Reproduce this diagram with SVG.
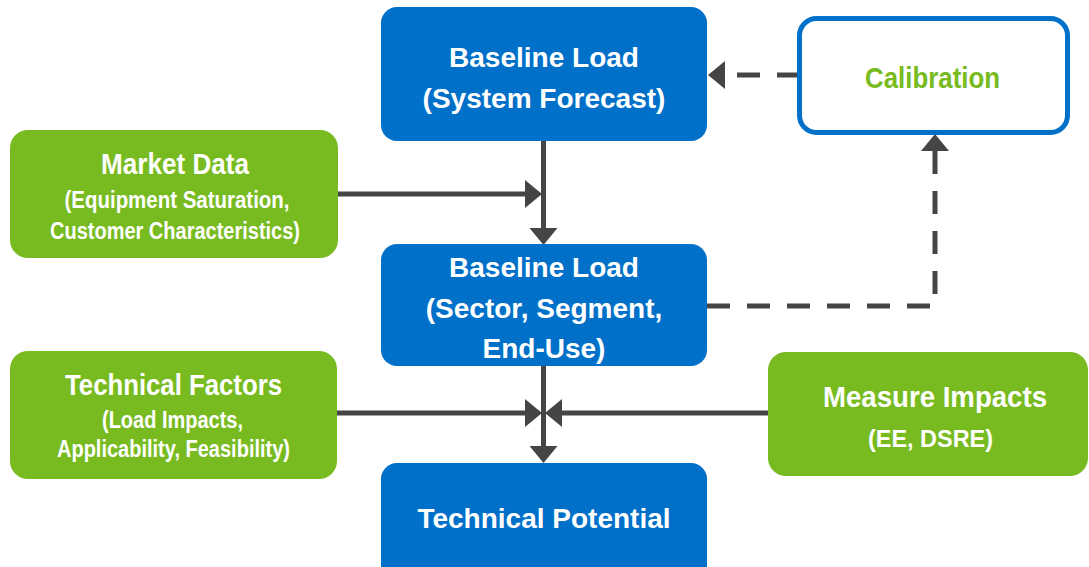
<svg xmlns="http://www.w3.org/2000/svg" width="1089" height="567" viewBox="0 0 1089 567">
  <style>
    .blue { fill: #0070C8; }
    .green { fill: #78BB20; }
    .outline { fill: #FFFFFF; stroke: #0070C8; stroke-width: 5; }
    text { font-family: "Liberation Sans", Arial, sans-serif; font-weight: bold; text-anchor: middle; }
    .w { fill: #FFFFFF; }
    .g { fill: #78BB20; }
    .big { font-size: 28px; }
    .head { font-size: 30px; }
    .small { font-size: 23px; }
    .link { fill: none; stroke: #444547; stroke-width: 5; }
    .dash { stroke-dasharray: 23 17; }
  </style>
  <defs>
    <marker id="head" markerUnits="userSpaceOnUse" markerWidth="18" markerHeight="28" refX="0" refY="14" orient="auto" overflow="visible">
      <path d="M0,0 L17,14 L0,28 Z" fill="#444547"/>
    </marker>
  </defs>

  <!-- connectors -->
  <g id="connectors">
    <line class="link" x1="543.5" y1="141" x2="543.5" y2="228" marker-end="url(#head)"/>
    <line class="link" x1="338" y1="194" x2="525" y2="194" marker-end="url(#head)"/>
    <line class="link" x1="543.5" y1="366" x2="543.5" y2="446" marker-end="url(#head)"/>
    <line class="link" x1="337" y1="413" x2="525" y2="413" marker-end="url(#head)"/>
    <line class="link" x1="768" y1="413" x2="562" y2="413" marker-end="url(#head)"/>
    <polyline class="link dash" points="707,306 935,306 935,151" marker-end="url(#head)"/>
    <line class="link dash" x1="800" y1="75" x2="725" y2="75" marker-end="url(#head)"/>
  </g>

  <g id="baseline-system">
    <rect class="blue" x="381" y="7" width="326" height="134" rx="16"/>
    <text class="w big" x="544" y="67">Baseline Load</text>
    <text class="w big" x="544" y="108">(System Forecast)</text>
  </g>

  <g id="calibration">
    <rect class="outline" x="799.5" y="18.5" width="268" height="114" rx="17"/>
    <text class="g head" x="932.5" y="88" textLength="135" lengthAdjust="spacingAndGlyphs">Calibration</text>
  </g>

  <g id="market-data">
    <rect class="green" x="10" y="130" width="328" height="128" rx="18"/>
    <text class="w head" x="175" y="174" textLength="148" lengthAdjust="spacingAndGlyphs">Market Data</text>
    <text class="w small" x="177" y="208" textLength="225" lengthAdjust="spacingAndGlyphs">(Equipment Saturation,</text>
    <text class="w small" x="175" y="239" textLength="250" lengthAdjust="spacingAndGlyphs">Customer Characteristics)</text>
  </g>

  <g id="baseline-sector">
    <rect class="blue" x="381" y="244" width="326" height="122" rx="16"/>
    <text class="w big" x="544" y="277">Baseline Load</text>
    <text class="w big" x="544" y="318">(Sector, Segment,</text>
    <text class="w big" x="544" y="358">End-Use)</text>
  </g>

  <g id="technical-factors">
    <rect class="green" x="10" y="351" width="327" height="128" rx="18"/>
    <text class="w head" x="173.5" y="395" textLength="217" lengthAdjust="spacingAndGlyphs">Technical Factors</text>
    <text class="w small" x="172.5" y="428" textLength="141" lengthAdjust="spacingAndGlyphs">(Load Impacts,</text>
    <text class="w small" x="173.5" y="457" textLength="233" lengthAdjust="spacingAndGlyphs">Applicability,  Feasibility)</text>
  </g>

  <g id="measure-impacts">
    <rect class="green" x="768" y="352" width="320" height="124" rx="18"/>
    <text class="w" x="935" y="407" font-size="29" textLength="224" lengthAdjust="spacingAndGlyphs">Measure Impacts</text>
    <text class="w" x="930.5" y="447" font-size="23" textLength="125" lengthAdjust="spacingAndGlyphs">(EE, DSRE)</text>
  </g>

  <g id="technical-potential">
    <rect class="blue" x="381" y="463" width="326" height="120" rx="16"/>
    <text class="w big" x="544" y="528">Technical Potential</text>
  </g>
</svg>
